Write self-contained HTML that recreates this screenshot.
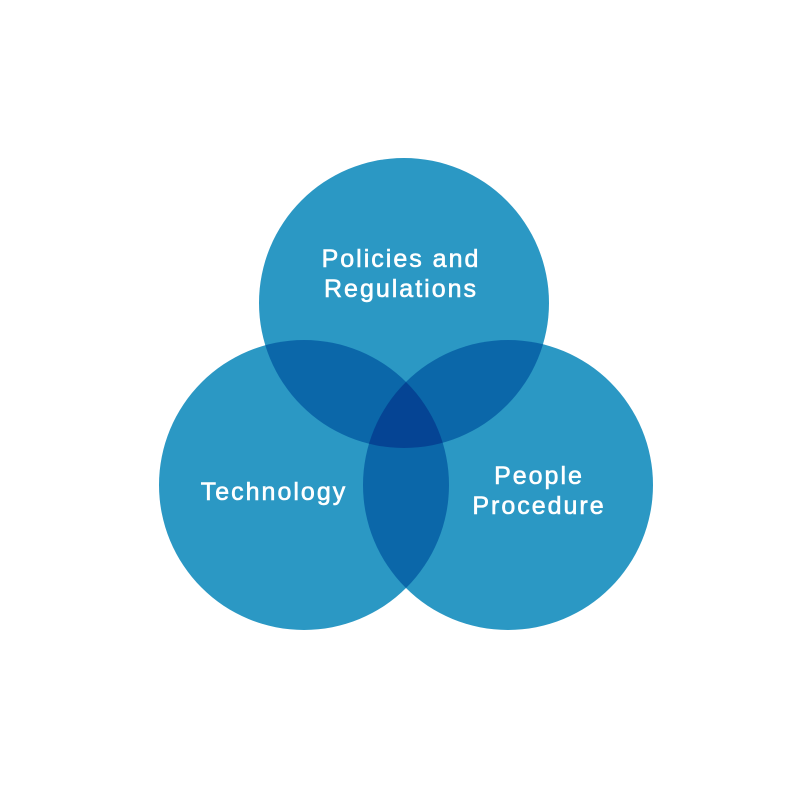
<!DOCTYPE html>
<html><head><meta charset="utf-8"><style>html,body{margin:0;padding:0;background:#fff}svg{display:block}</style></head>
<body>
<svg width="800" height="800" viewBox="0 0 800 800" xmlns="http://www.w3.org/2000/svg">
<defs>
<clipPath id="cT"><circle cx="404" cy="303" r="145"/></clipPath>
<clipPath id="cL"><circle cx="304" cy="485" r="145"/></clipPath>
<clipPath id="cR"><circle cx="508" cy="485" r="145"/></clipPath>
</defs>
<rect width="800" height="800" fill="#fff"/>
<circle cx="404" cy="303" r="145" fill="#2b98c4"/>
<circle cx="304" cy="485" r="145" fill="#2b98c4"/>
<circle cx="508" cy="485" r="145" fill="#2b98c4"/>
<g clip-path="url(#cT)"><circle cx="304" cy="485" r="145" fill="#0b67a9"/><circle cx="508" cy="485" r="145" fill="#0b67a9"/></g>
<g clip-path="url(#cL)"><circle cx="508" cy="485" r="145" fill="#0b67a9"/></g>
<g clip-path="url(#cT)"><g clip-path="url(#cL)"><circle cx="508" cy="485" r="145" fill="#054494"/></g></g>
<g font-family="Liberation Sans, sans-serif" font-size="25" fill="#fff" stroke="#fff" stroke-width="0.6" text-anchor="middle" letter-spacing="2">
<text x="401" y="267">Policies and</text>
<text x="401" y="297">Regulations</text>
<text x="274" y="500">Technology</text>
<text x="539" y="484">People</text>
<text x="539" y="514">Procedure</text>
</g>
</svg>
</body></html>
